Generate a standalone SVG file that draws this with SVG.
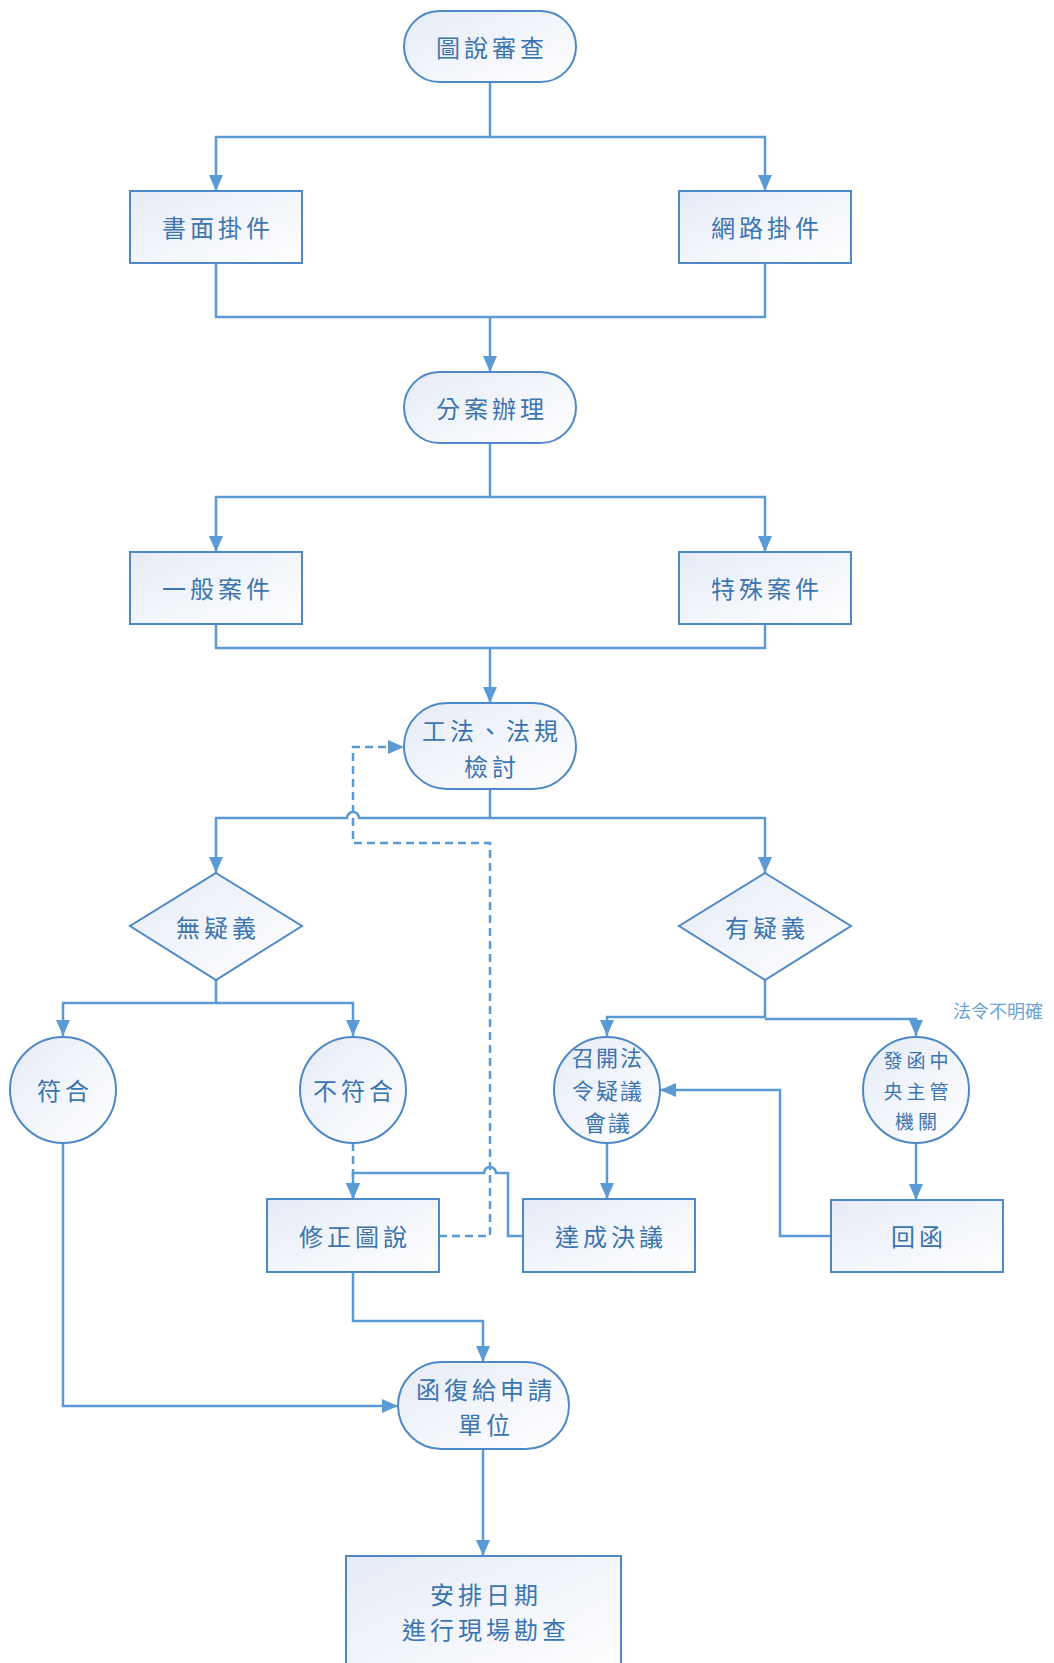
<svg xmlns="http://www.w3.org/2000/svg" width="1054" height="1663" viewBox="0 0 1054 1663">
<style>
.nd{fill:url(#gf);stroke:#4f88c6;stroke-width:2}
.t{font-family:"Noto Sans CJK TC","Noto Sans CJK SC",sans-serif;font-size:24px;fill:#3c74b0;text-anchor:middle;dominant-baseline:central;letter-spacing:4px}
.ts{font-size:22px;letter-spacing:2px}
.tx{font-size:19px;letter-spacing:4px}
.c{fill:none;stroke:#5b9bd5;stroke-width:2.5}
.d{stroke-dasharray:8,5}
.lb{font-family:"Noto Sans CJK TC","Noto Sans CJK SC",sans-serif;font-size:18px;fill:#6aa3da}
</style>
<defs>
<linearGradient id="gf" x1="0" y1="0" x2="1" y2="1">
<stop offset="0" stop-color="#e5ebf6"/>
<stop offset="1" stop-color="#ffffff"/>
</linearGradient>
<marker id="ar" markerUnits="userSpaceOnUse" markerWidth="16" markerHeight="14" refX="16" refY="7" orient="auto">
<path d="M0,0 L16,7 L0,14 z" fill="#5b9bd5"/>
</marker>
</defs>
<g id="connectors">
<path class="c" d="M490,82 V137 H216 V191" marker-end="url(#ar)"/>
<path class="c" d="M490,137 H765 V191" marker-end="url(#ar)"/>
<path class="c" d="M216,263 V317 H765 V263"/>
<path class="c" d="M490,317 V372" marker-end="url(#ar)"/>
<path class="c" d="M490,443 V497 H216 V552" marker-end="url(#ar)"/>
<path class="c" d="M490,497 H765 V552" marker-end="url(#ar)"/>
<path class="c" d="M216,624 V648 H765 V624"/>
<path class="c" d="M490,648 V703" marker-end="url(#ar)"/>
<path class="c" d="M490,789 V818 H359 A6,6 0 0 0 347,818 H216 V873" marker-end="url(#ar)"/>
<path class="c" d="M490,818 H765 V873" marker-end="url(#ar)"/>
<path class="c" d="M216,980 V1003 H63 V1036" marker-end="url(#ar)"/>
<path class="c" d="M216,1003 H353 V1036" marker-end="url(#ar)"/>
<path class="c" d="M765,980 V1017 H607 V1036" marker-end="url(#ar)"/>
<path class="c" d="M765,1019 H916 V1036" marker-end="url(#ar)"/>
<path class="c d" d="M353,1143 V1199" marker-end="url(#ar)"/>
<path class="c" d="M523,1236 H508 V1173 H496 A6,6 0 0 0 484,1173 H353 V1199" marker-end="url(#ar)"/>
<path class="c d" d="M439,1236 H490 V843 H353 V747 H404" marker-end="url(#ar)"/>
<path class="c" d="M607,1143 V1199" marker-end="url(#ar)"/>
<path class="c" d="M916,1143 V1200" marker-end="url(#ar)"/>
<path class="c" d="M831,1236 H780 V1090 H660" marker-end="url(#ar)"/>
<path class="c" d="M353,1272 V1321 H483 V1362" marker-end="url(#ar)"/>
<path class="c" d="M63,1143 V1406 H398" marker-end="url(#ar)"/>
<path class="c" d="M483,1449 V1556" marker-end="url(#ar)"/>
</g>
<g id="n-start"><rect class="nd" x="404" y="11" width="172" height="71" rx="35.5"/><text class="t" x="492" y="46">圖說審查</text></g>
<g id="n-paper"><rect class="nd" x="130" y="191" width="172" height="72"/><text class="t" x="218" y="226">書面掛件</text></g>
<g id="n-net"><rect class="nd" x="679" y="191" width="172" height="72"/><text class="t" x="767" y="226">網路掛件</text></g>
<g id="n-assign"><rect class="nd" x="404" y="372" width="172" height="71" rx="35.5"/><text class="t" x="492" y="407">分案辦理</text></g>
<g id="n-general"><rect class="nd" x="130" y="552" width="172" height="72"/><text class="t" x="218" y="587">一般案件</text></g>
<g id="n-special"><rect class="nd" x="679" y="552" width="172" height="72"/><text class="t" x="767" y="587">特殊案件</text></g>
<g id="n-review"><rect class="nd" x="404" y="703" width="172" height="86" rx="43"/><text class="t" x="492" y="729">工法、法規</text><text class="t" x="492" y="765">檢討</text></g>
<g id="n-noq"><path class="nd" d="M216,873 L302,926 L216,980 L130,926 Z"/><text class="t" x="218" y="926">無疑義</text></g>
<g id="n-q"><path class="nd" d="M765,873 L851,926 L765,980 L679,926 Z"/><text class="t" x="767" y="926">有疑義</text></g>
<g id="n-ok"><circle class="nd" cx="63" cy="1090" r="53"/><text class="t" x="65" y="1089">符合</text></g>
<g id="n-nok"><circle class="nd" cx="353" cy="1090" r="53"/><text class="t" x="355" y="1089">不符合</text></g>
<g id="n-meet"><circle class="nd" cx="607" cy="1090" r="53"/><text class="t ts" x="608" y="1056">召開法</text><text class="t ts" x="608" y="1089">令疑議</text><text class="t ts" x="608" y="1121">會議</text></g>
<g id="n-letter"><circle class="nd" cx="916" cy="1090" r="53"/><text class="t tx" x="918" y="1059">發函中</text><text class="t tx" x="918" y="1090">央主管</text><text class="t tx" x="918" y="1120">機關</text></g>
<text class="lb" x="953" y="1018">法令不明確</text>
<g id="n-fix"><rect class="nd" x="267" y="1199" width="172" height="73"/><text class="t" x="355" y="1235">修正圖說</text></g>
<g id="n-resolve"><rect class="nd" x="523" y="1199" width="172" height="73"/><text class="t" x="611" y="1235">達成決議</text></g>
<g id="n-reply"><rect class="nd" x="831" y="1200" width="172" height="72"/><text class="t" x="919" y="1235">回函</text></g>
<g id="n-answer"><rect class="nd" x="398" y="1362" width="171" height="87" rx="43.5"/><text class="t" x="486" y="1388">函復給申請</text><text class="t" x="486" y="1423">單位</text></g>
<g id="n-site"><rect class="nd" x="346" y="1556" width="275" height="124"/><text class="t" x="486" y="1593">安排日期</text><text class="t" x="486" y="1628">進行現場勘查</text></g>
</svg>
